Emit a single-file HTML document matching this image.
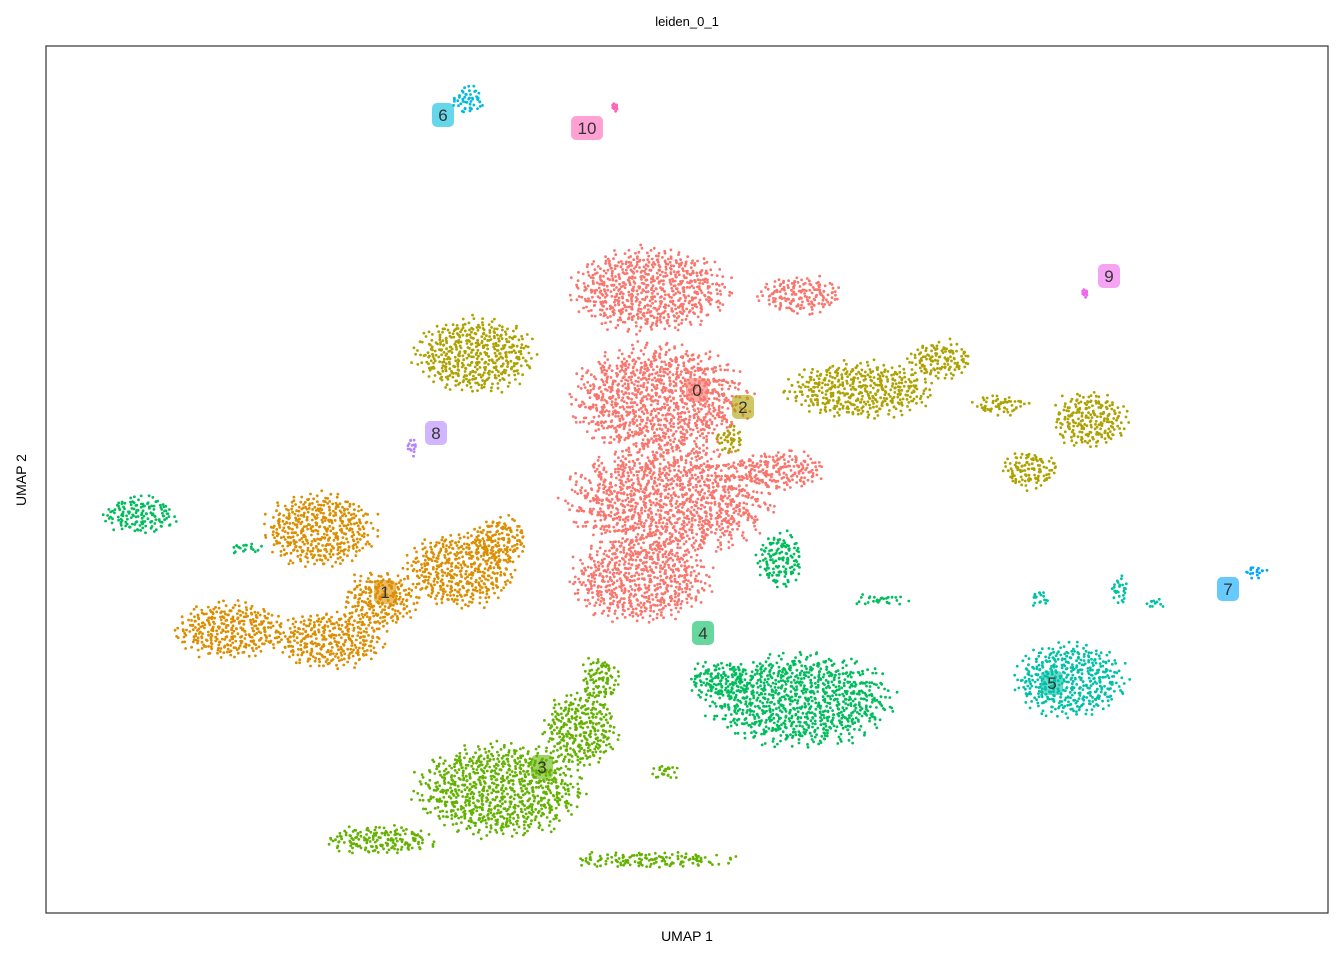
<!DOCTYPE html>
<html><head><meta charset="utf-8"><style>
body{margin:0;background:#fff;font-family:"Liberation Sans",sans-serif}
svg{display:block}
</style></head><body>
<svg id="chart" width="1344" height="960">
<rect x="0" y="0" width="1344" height="960" fill="#fff"/>
<text x="687" y="26" text-anchor="middle" font-size="13" fill="#000">leiden_0_1</text>
<rect x="46" y="46" width="1282" height="867" fill="none" stroke="#333" stroke-width="1.2"/>
<text x="687" y="941" text-anchor="middle" font-size="14">UMAP 1</text>
<text x="26" y="480" text-anchor="middle" font-size="14" transform="rotate(-90 26 480)">UMAP 2</text>
<g id="pts"></g><g id="labs"></g>
</svg>
<script>
// data-space: x in [0,1282], y in [0,867] (UMAP units rescaled)
const clusterNames = ["0","1","2","3","4","5","6","7","8","9","10"];
const clusterColors = ["#F8766D","#DB8E00","#AEA200","#64B200","#00BD5C","#00C1A7","#00BADE","#00A6FF","#B385FF","#EF67EB","#FF63B6"];
// regions per cluster: [cx, cy, rx, ry] in data units
const regions0 = [[604,623,85,45],[754,618,45,20],[614,513,95,60],[624,413,110,60],[594,333,75,45],[734,443,50,20]];
const regions1 = [[184,283,60,30],[284,273,60,30],[274,383,60,40],[414,343,60,40],[454,373,30,25],[334,313,40,30]];
const regions2 = [[429,558,65,40],[814,523,80,30],[894,553,35,20],[1044,493,40,30],[984,443,30,20],[954,508,30,10],[684,473,15,15]];
const regions3 = [[454,123,90,50],[534,183,40,40],[334,73,60,15],[604,53,90,8],[554,233,20,25],[619,141,15,8]];
const regions4 = [[94,398,40,20],[199,365,20,5],[754,213,100,50],[674,233,35,20],[734,353,25,30],[834,313,30,5]];
const regions5 = [[1024,233,60,40],[994,315,12,8],[1074,323,10,15],[1109,310,8,4]];
const regions6 = [[422,813,18,15]];
const regions7 = [[1209,341,15,6]];
const regions8 = [[366,466,8,10]];
const regions9 = [[1039,620,5,3]];
const regions10 = [[569,806,5,3]];
const clusterRegions = [regions0,regions1,regions2,regions3,regions4,regions5,regions6,regions7,regions8,regions9,regions10];
const labelX = [651,339,697,496,657,1006,397,1182,390,1063,541];
const labelY = [523,321,506,146,280,230,798,324,480,637,785];

const X0=46, Y0=913;
function xScale(v){return X0+v;}
function yScale(v){return Y0-v;}
const NS="http://www.w3.org/2000/svg";
const pg=document.getElementById('pts'), lg=document.getElementById('labs');
clusterRegions.forEach((regs,ci)=>{
  const g=document.createElementNS(NS,'g');
  
  
  g.setAttribute('fill',clusterColors[ci]);
  regs.forEach((r,ri)=>{
    const n=Math.max(12,Math.round(r[2]*r[3]*Math.PI*0.06));
    for(let i=0;i<n;i++){
      const rr=Math.sqrt((i+0.5)/n)*(0.85+0.15*Math.sin(i*7.13)), th=i*2.39996+ri;
      const c=document.createElementNS(NS,'circle');
      c.setAttribute('cx',xScale(r[0]+r[2]*rr*Math.cos(th)+2*Math.sin(i*3.7)).toFixed(1));
      c.setAttribute('cy',yScale(r[1]+r[3]*rr*Math.sin(th)+2*Math.cos(i*5.3)).toFixed(1));
      c.setAttribute('r','1.4');
      g.appendChild(c);
    }
  });
  pg.appendChild(g);
});
clusterNames.forEach((nm,ci)=>{
  const x=xScale(labelX[ci]), y=yScale(labelY[ci]);
  const w=nm.length>1?32:22;
  const b=document.createElementNS(NS,'rect');
  
  
  b.setAttribute('x',x-w/2);b.setAttribute('y',y-12);
  b.setAttribute('width',w);b.setAttribute('height',24);
  b.setAttribute('rx',5);b.setAttribute('fill',clusterColors[ci]);b.setAttribute('opacity','0.6');
  lg.appendChild(b);
  const t=document.createElementNS(NS,'text');
  
  
  t.setAttribute('x',x);t.setAttribute('y',y+6);
  t.setAttribute('text-anchor','middle');t.setAttribute('font-size','17');t.setAttribute('fill','#333');
  t.textContent=nm;
  lg.appendChild(t);
});
</script>
</body></html>
